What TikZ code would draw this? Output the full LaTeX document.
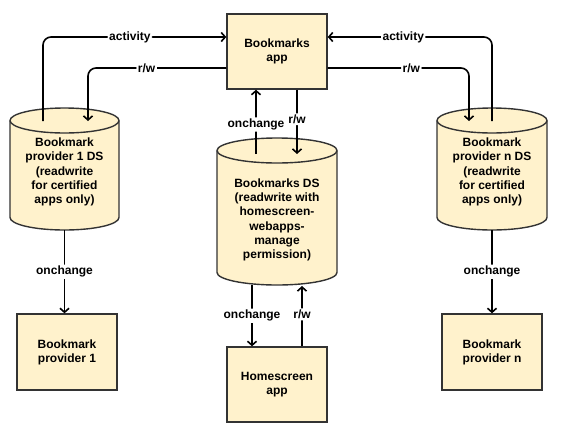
\documentclass[tikz,border=0pt]{standalone}
\usepackage{fontspec}
\setmainfont{Liberation Sans}
\usetikzlibrary{arrows.meta}
\definecolor{boxfill}{HTML}{FFF2CC}
\definecolor{boxline}{HTML}{333333}
\tikzset{
  box/.style={draw=boxline, fill=boxfill, line width=1.4pt, minimum width=100pt, minimum height=75pt, inner sep=0pt, align=center, font=\bfseries\fontsize{12}{14}\selectfont},
  cyl/.style={draw=boxline, fill=boxfill, line width=1.4pt},
  cyltext/.style={align=center, font=\bfseries\fontsize{12}{14.3}\selectfont, inner sep=0pt},
  conn/.style={draw=black, line width=1.6pt, rounded corners=8pt, -{Straight Barb[length=4pt,width=9pt,line width=1.6pt]}},
  lbl/.style={fill=white, inner sep=1.5pt, font=\bfseries\fontsize{12}{14}\selectfont}
}
\begin{document}
\begin{tikzpicture}[x=1pt,y=-1pt]
\useasboundingbox (0,0) rectangle (572,442);
% rectangles
\node[box] (app) at (277,51.5) {Bookmarks\\app};
\node[box] (hs) at (277,384.5) {Homescreen\\app};
\node[box, minimum height=76pt] (p1) at (67,352) {Bookmark\\provider 1};
\node[box, minimum height=76pt] (pn) at (492,352) {Bookmark\\provider n};
% cylinder left (L=10,R=119,T=108,B=230)
\filldraw[cyl] (10,120.5) -- (10,217.5) arc[start angle=180,end angle=0,x radius=54.5,y radius=12.5] -- (119,120.5) arc[start angle=0,end angle=-180,x radius=54.5,y radius=12.5] -- cycle;
\draw[cyl, fill=none] (10,120.5) arc[start angle=180,end angle=0,x radius=54.5,y radius=12.5];
\node[cyltext] (c1) at (64.5,172) {Bookmark\\provider 1 DS\\(readwrite\\for certified\\apps only)};
% cylinder right (L=437,R=547)
\filldraw[cyl] (437,120.5) -- (437,217.5) arc[start angle=180,end angle=0,x radius=55,y radius=12.5] -- (547,120.5) arc[start angle=0,end angle=-180,x radius=55,y radius=12.5] -- cycle;
\draw[cyl, fill=none] (437,120.5) arc[start angle=180,end angle=0,x radius=55,y radius=12.5];
\node[cyltext] (cn) at (492,172) {Bookmark\\provider n DS\\(readwrite\\for certified\\apps only)};
% cylinder middle (L=217,R=337,T=138,B=285)
\filldraw[cyl] (217,150.5) -- (217,272.5) arc[start angle=180,end angle=0,x radius=60,y radius=12.5] -- (337,150.5) arc[start angle=0,end angle=-180,x radius=60,y radius=12.5] -- cycle;
\draw[cyl, fill=none] (217,150.5) arc[start angle=180,end angle=0,x radius=60,y radius=12.5];
\node[cyltext] (cm) at (277,220) {Bookmarks DS\\(readwrite with\\homescreen-\\webapps-\\manage\\permission)};
% connector endpoints
\coordinate (actL) at (43,121);
\coordinate (rwL) at (88,121);
\coordinate (actR) at (492,121);
\coordinate (rwR) at (469,121);
\coordinate (ya) at (0,37);
\coordinate (yr) at (0,68);
\coordinate (cmOn) at (256,154);
\coordinate (cmRw) at (297,154);
\coordinate (cmB1) at (252,285);
\coordinate (cmB2) at (302,286);
\coordinate (c1B) at (64.5,230);
\coordinate (cnB) at (492,230);
% connectors
\draw[conn] (actL) |- (app.west |- ya) node[lbl, pos=0.737] {activity};
\draw[conn] (app.west |- yr) -| (rwL) node[lbl, pos=0.288] {r/w};
\draw[conn] (actR) |- (app.east |- ya) node[lbl, pos=0.77] {activity};
\draw[conn] (app.east |- yr) -| (rwR) node[lbl, pos=0.296] {r/w};
\draw[conn] (cmOn) -- (cmOn |- app.south) node[lbl, pos=0.46] {onchange};
\draw[conn] (app.south -| cmRw) -- (cmRw) node[lbl, pos=0.46] {r/w};
\draw[conn] (cmB1) -- (cmB1 |- hs.north) node[lbl, pos=0.5] {onchange};
\draw[conn] (hs.north -| cmB2) -- (cmB2) node[lbl, pos=0.53] {r/w};
\draw[conn] (c1B) -- (c1B |- p1.north) node[lbl, pos=0.5] {onchange};
\draw[conn] (cnB) -- (cnB |- pn.north) node[lbl, pos=0.5] {onchange};
\end{tikzpicture}
\end{document}
